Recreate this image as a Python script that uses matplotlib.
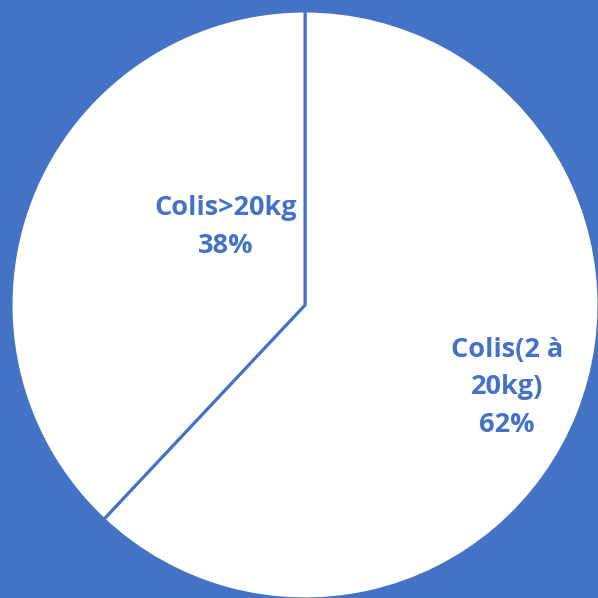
import matplotlib
matplotlib.use("Agg")
import matplotlib.pyplot as plt

categories = ["Colis(2 à\n20kg)", "Colis>20kg"]
values = [62, 38]
pct_labels = ["62%", "38%"]

blue = "#4472C4"
fig = plt.figure(figsize=(5.98, 5.98), dpi=100, facecolor=blue)
cx, cy, r = 305/598, 1 - 305/598, 294/598
ax = fig.add_axes([cx - r, cy - r, 2*r, 2*r])
ax.set_facecolor(blue)
wedges, _ = ax.pie(values, startangle=90, counterclock=False, radius=1,
                   colors=["white", "white"],
                   wedgeprops=dict(edgecolor=blue, linewidth=2.2))
ax.set_xlim(-1, 1)
ax.set_ylim(-1, 1)
ax.set_aspect("equal")
ax.axis("off")

label_pos = [(0.687, -0.28), (-0.269, 0.265)]
for (x, y), c, p in zip(label_pos, categories, pct_labels):
    ax.text(x, y, f"{c}\n{p}", ha="center", va="center", color=blue,
            fontsize=19.5, fontweight="bold", family="Open Sans", linespacing=1.58)

fig.savefig("out.png", dpi=100, facecolor=blue)
